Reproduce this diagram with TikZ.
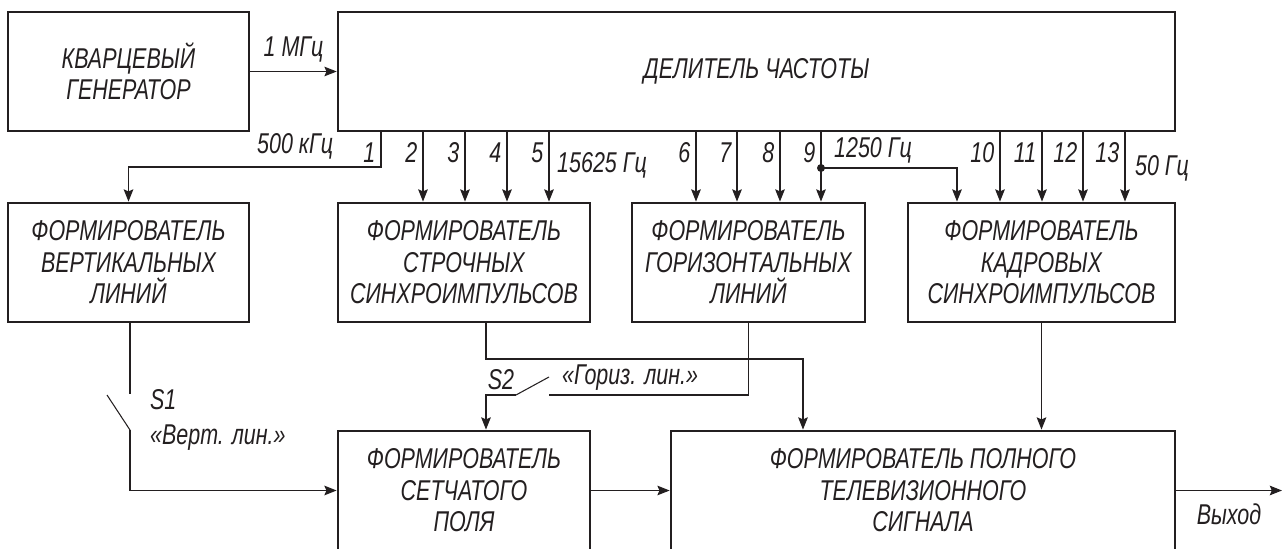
\documentclass[tikz,border=0pt]{standalone}
\usepackage{fontspec}
\setmainfont{Liberation Sans}[FakeStretch=0.75]
\usepackage{tikz}
\usetikzlibrary{arrows.meta, calc}
\usepackage{xcolor}
\definecolor{SchemeInk}{HTML}{231F20}
\definecolor{SchemePaper}{HTML}{FFFFFF}
\newcommand{\blockfont}{\itshape\fontsize{16.3}{17.9}\selectfont}
\tikzset{
    block/.style={
        draw=SchemeInk,
        fill=SchemePaper,
        line width=1.6pt,
        minimum width=#1,
        minimum height=2.38cm,
        text=SchemeInk,
        font=\blockfont,
        align=center,
        inner sep=2pt
    },
    block/.default=4.8cm,
    arrow/.style={
        -{Stealth[length=7pt, width=5.5pt, inset=1.2pt]},
        line width=0.6pt,
        SchemeInk
    },
    wire/.style={
        line width=0.6pt,
        SchemeInk
    },
    lbl/.style={
        text=SchemeInk,
        font=\blockfont,
        inner sep=1pt
    }
}

\begin{document}
\begin{tikzpicture}[x=0.02cm, y=-0.02cm]
    \useasboundingbox (0,0) rectangle (1282,548);

    \node[block=4.82cm] (gen) at (128.5,71.5) {КВАРЦЕВЫЙ\\ГЕНЕРАТОР};
    \node[block=16.74cm] (div) at (756.5,71.5) {ДЕЛИТЕЛЬ ЧАСТОТЫ};
    \node[block=4.82cm] (vert) at (128.5,262.5) {ФОРМИРОВАТЕЛЬ\\ВЕРТИКАЛЬНЫХ\\ЛИНИЙ};
    \node[block=5.04cm] (strob) at (464,262.5) {ФОРМИРОВАТЕЛЬ\\СТРОЧНЫХ\\СИНХРОИМПУЛЬСОВ};
    \node[block=4.66cm] (horiz) at (748.5,262.5) {ФОРМИРОВАТЕЛЬ\\ГОРИЗОНТАЛЬНЫХ\\ЛИНИЙ};
    \node[block=5.34cm] (kadr) at (1041.5,262.5) {ФОРМИРОВАТЕЛЬ\\КАДРОВЫХ\\СИНХРОИМПУЛЬСОВ};
    \node[block=5.04cm] (setch) at (464,490.5) {ФОРМИРОВАТЕЛЬ\\СЕТЧАТОГО\\ПОЛЯ};
    \node[block=10.08cm] (full) at (923,490.5) {ФОРМИРОВАТЕЛЬ ПОЛНОГО\\ТЕЛЕВИЗИОННОГО\\СИГНАЛА};

    \draw[arrow] (gen) -- node[lbl, above=4pt] {1 МГц} (div);

    % Taps of the divider
    \coordinate (c1) at (381,167);
    \draw[arrow] (div.south -| c1) -- node[lbl, pos=0.58, left=2pt] {1} (c1)
        -| node[lbl, pos=0.17, above=3pt] {500 кГц} (vert.north);
    \foreach \x/\n in {423/2, 465/3, 507/4, 549/5} {
        \coordinate (t\n) at (\x,0);
        \draw[arrow] (div.south -| t\n) -- node[lbl, pos=0.29, left=2pt] {\n} (strob.north -| t\n);
    }
    \node[lbl] (f2) at (602,165) {15625 Гц};
    \foreach \x/\n in {696/6, 737/7, 780/8, 821/9} {
        \coordinate (t\n) at (\x,0);
        \draw[arrow] (div.south -| t\n) -- node[lbl, pos=0.29, left=2pt] {\n} (horiz.north -| t\n);
    }
    \coordinate (c9) at (821,168);
    \coordinate (c9r) at (957,168);
    \fill[SchemeInk] (c9) circle (4);
    \draw[arrow] (c9) -- (c9r) -- (kadr.north -| c9r);
    \node[lbl] (f9) at (873,150) {1250 Гц};
    \foreach \x/\n in {1000/10, 1042/11, 1083/12, 1125/13} {
        \coordinate (t\n) at (\x,0);
        \draw[arrow] (div.south -| t\n) -- node[lbl, pos=0.29, left=2pt] {\n} (kadr.north -| t\n);
    }
    \node[lbl] (f13) at (1162,168) {50 Гц};

    % Switch S1
    \coordinate (s1a) at (130,394);
    \coordinate (s1b) at (130,430);
    \coordinate (s1c) at (107,395);
    \draw[wire] (vert.south -| s1a) -- (s1a);
    \draw[wire] (s1c) -- (s1b);
    \draw[arrow] (s1b) |- (setch.west);
    \node[lbl, anchor=west] (s1) at (148,400) {S1};
    \node[lbl, anchor=west] (s1t) at (148,438) {«Верт. лин.»};

    % Switch S2
    \coordinate (s2a) at (549,395);
    \coordinate (s2b) at (516,395);
    \coordinate (s2c) at (549,377);
    \coordinate (b1) at (486,359);
    \coordinate (b2) at (803,359);
    \draw[wire] (horiz.south) |- (s2a);
    \draw[wire] (s2b) -- (s2c);
    \draw[arrow] (s2b) -| (setch.north -| b1);
    \node[lbl] (s2) at (501,380) {S2};
    \node[lbl, anchor=west] (s2t) at (560,378) {«Гориз. лин.»};

    \draw[arrow] (strob.south -| b1) -- (b1) -- (b2) -- (full.north -| b2);
    \draw[arrow] (setch.east) -- (full.west);
    \draw[arrow] (kadr.south) -- (kadr.south |- full.north);
    \coordinate (out) at (1282,490.5);
    \draw[arrow] (full.east) -- (out);
    \node[lbl] (vyh) at (1229,514) {Выход};
\end{tikzpicture}
\end{document}
